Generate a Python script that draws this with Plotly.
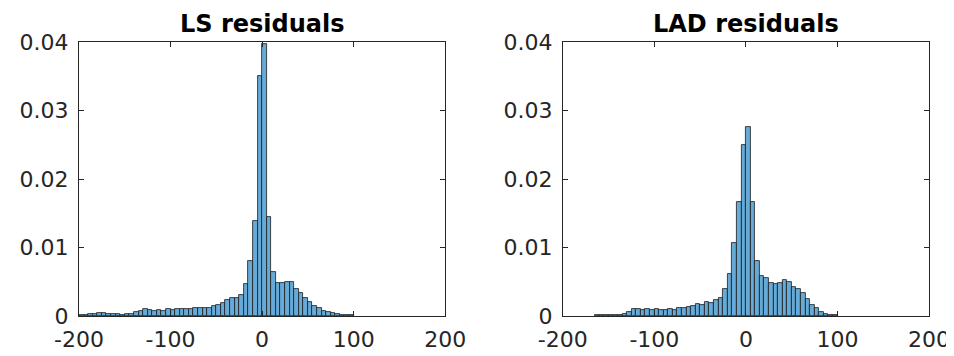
import plotly.graph_objects as go
from plotly.subplots import make_subplots

bin_width = 5

# LS residuals histogram (probability density), bins of width 5 starting at -200
ls_bin_left = list(range(-200, 100, 5))
ls_density = [
    0.0001, 0.0002, 0.0003, 0.0003, 0.0004, 0.0004, 0.0003, 0.0003, 0.0003, 0.0002,
    0.0003, 0.0003, 0.0006, 0.0008, 0.0010, 0.0009, 0.0008, 0.0009, 0.0008, 0.0010,
    0.0009, 0.0010, 0.0010, 0.0010, 0.0010, 0.0012, 0.0012, 0.0011, 0.0012, 0.0014,
    0.0016, 0.0019, 0.0024, 0.0026, 0.0027, 0.0031, 0.0047, 0.0080, 0.0139, 0.0350,
    0.0397, 0.0145, 0.0064, 0.0048, 0.0048, 0.0049, 0.0050, 0.0040, 0.0033, 0.0026,
    0.0020, 0.0014, 0.0011, 0.0008, 0.0006, 0.00045, 0.0003, 0.00016, 0.0001, 0.0001,
]

# LAD residuals histogram, bins of width 5 starting at -165
lad_bin_left = list(range(-165, 100, 5))
lad_density = [
    0.0001, 0.0002, 0.0002, 0.0002, 0.0002, 0.0001, 0.0003, 0.0006, 0.0010, 0.0010,
    0.0009, 0.0010, 0.0009, 0.0010, 0.0009, 0.0009, 0.0010, 0.0009, 0.0011, 0.0012,
    0.0013, 0.0015, 0.0017, 0.0016, 0.0020, 0.0019, 0.0023, 0.0027, 0.0039, 0.0061,
    0.0106, 0.0167, 0.0249, 0.0276, 0.0167, 0.0080, 0.0059, 0.0055, 0.0048, 0.0047,
    0.0048, 0.0052, 0.0050, 0.0043, 0.0039, 0.0033, 0.0025, 0.0016, 0.0011, 0.0006,
    0.00035, 0.0002, 0.00015,
]

titles = ["LS residuals", "LAD residuals"]
x_ticks = [-200, -100, 0, 100, 200]
x_ticktext = ["-200", "-100", "0", "100", "200"]
y_ticks = [0, 0.01, 0.02, 0.03, 0.04]
y_ticktext = ["0", "0.01", "0.02", "0.03", "0.04"]

bar_fill = "#66AAD7"
bar_edge = "#1a1a1a"
axis_col = "#262626"
font_family = "DejaVu Sans"

fig = make_subplots(rows=1, cols=2, horizontal_spacing=0.1384)

for col, (lefts, dens) in enumerate([(ls_bin_left, ls_density), (lad_bin_left, lad_density)], start=1):
    centers = [l + bin_width / 2 for l in lefts]
    fig.add_trace(
        go.Bar(
            x=centers, y=dens, width=bin_width,
            marker=dict(color=bar_fill, line=dict(color=bar_edge, width=0.8)),
            showlegend=False, hoverinfo="x+y",
        ),
        row=1, col=col,
    )
    fig.update_xaxes(
        range=[-200, 200], tickvals=x_ticks, ticktext=x_ticktext,
        showgrid=False, zeroline=False, showline=True, mirror="ticks",
        linecolor=axis_col, linewidth=1, ticks="inside", ticklen=5,
        tickcolor=axis_col, tickfont=dict(size=22, color=axis_col, family=font_family),
        ticklabelstandoff=4,
        row=1, col=col,
    )
    fig.update_yaxes(
        range=[0, 0.04], tickvals=y_ticks, ticktext=y_ticktext,
        showgrid=False, zeroline=False, showline=True, mirror="ticks",
        linecolor=axis_col, linewidth=1, ticks="inside", ticklen=5,
        tickcolor=axis_col, tickfont=dict(size=22, color=axis_col, family=font_family),
        ticklabelstandoff=5,
        row=1, col=col,
    )

domains = [fig.layout.xaxis.domain, fig.layout.xaxis2.domain]
for d, t in zip(domains, titles):
    fig.add_annotation(
        text=f"<b>{t}</b>", x=(d[0] + d[1]) / 2, y=1, xref="paper", yref="paper",
        xanchor="center", yanchor="bottom", showarrow=False, yshift=2,
        font=dict(size=24, color="black", family=font_family),
    )

fig.update_layout(
    width=954, height=356,
    margin=dict(l=67, r=25, t=34, b=38),
    paper_bgcolor="white", plot_bgcolor="white",
    bargap=0,
    font=dict(family=font_family),
)

fig.write_html("out.html")
